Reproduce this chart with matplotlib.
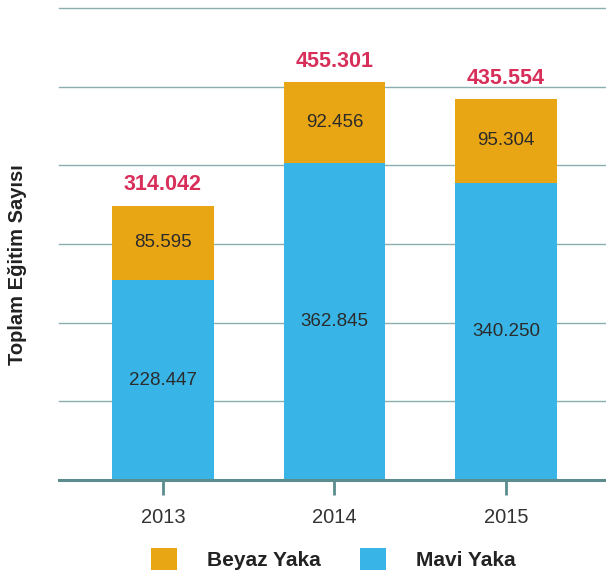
import numpy as np
from matplotlib import pyplot as plt

plt.rcParams['font.family'] = ['Liberation Sans', 'DejaVu Sans']

years = ['2013', '2014', '2015']
mavi = [228447, 362845, 340250]
beyaz = [85595, 92456, 95304]
toplam = [314042, 455301, 435554]

def fmt(v):
    return '{:,}'.format(v).replace(',', '.')

c_beyaz = '#e8a514'
c_mavi = '#38b5e6'
c_red = '#d82f5a'
c_axis = '#5b8c8e'

fig = plt.figure(figsize=(6.06, 5.76), dpi=100)
ax = fig.add_axes([59/606, 1-480/576, 1-59/606, (480-8)/576])

x = np.arange(len(years))
w = 0.59
ax.bar(x, mavi, w, color=c_mavi, zorder=3, label='Mavi Yaka')
ax.bar(x, beyaz, w, bottom=mavi, color=c_beyaz, zorder=3, label='Beyaz Yaka')

for i in range(len(years)):
    ax.text(x[i], mavi[i]/2, fmt(mavi[i]), ha='center', va='center', fontsize=13.5, color='#2b2b2b', zorder=4)
    ax.text(x[i], mavi[i] + beyaz[i]/2, fmt(beyaz[i]), ha='center', va='center', fontsize=13.5, color='#2b2b2b', zorder=4)
    ax.text(x[i], toplam[i] + 12000, fmt(toplam[i]), ha='center', va='bottom', fontsize=15.5, color=c_red, fontweight='bold', zorder=4)

ax.set_xlim(-0.606, 2.583)
ax.set_ylim(0, 540000)
ax.set_yticks(np.arange(0, 540001, 90000))
ax.yaxis.grid(True, color='#8aaeb0', linewidth=1.0, zorder=0)
ax.tick_params(axis='y', length=0, labelleft=False)
ax.set_xticks(x)
ax.set_xticklabels(years, fontsize=14.5, color='#333333')
ax.tick_params(axis='x', length=11, width=2, color=c_axis, pad=9)
for s in ['top', 'right', 'left']:
    ax.spines[s].set_visible(False)
ax.spines['bottom'].set_color(c_axis)
ax.spines['bottom'].set_linewidth(2.2)
ax.spines['bottom'].set_zorder(5)
for line in ax.get_ygridlines():
    line.set_clip_on(False)

fig.text(18/606, 1-265/576, 'Toplam Eğitim Sayısı', rotation=90, ha='center', va='center',
         fontsize=14.5, fontweight='bold', color='#222222')

handles, labels = ax.get_legend_handles_labels()
leg = fig.legend(handles[::-1], labels[::-1], loc='center', bbox_to_anchor=(0.55, 1-559/576),
                 ncol=2, frameon=False, prop={'size': 15, 'weight': 'bold'},
                 handlelength=1.25, handleheight=1.25, handletextpad=1.45, columnspacing=1.9)
for t in leg.get_texts():
    t.set_color('#222222')

fig.savefig('out.png', dpi=100)
